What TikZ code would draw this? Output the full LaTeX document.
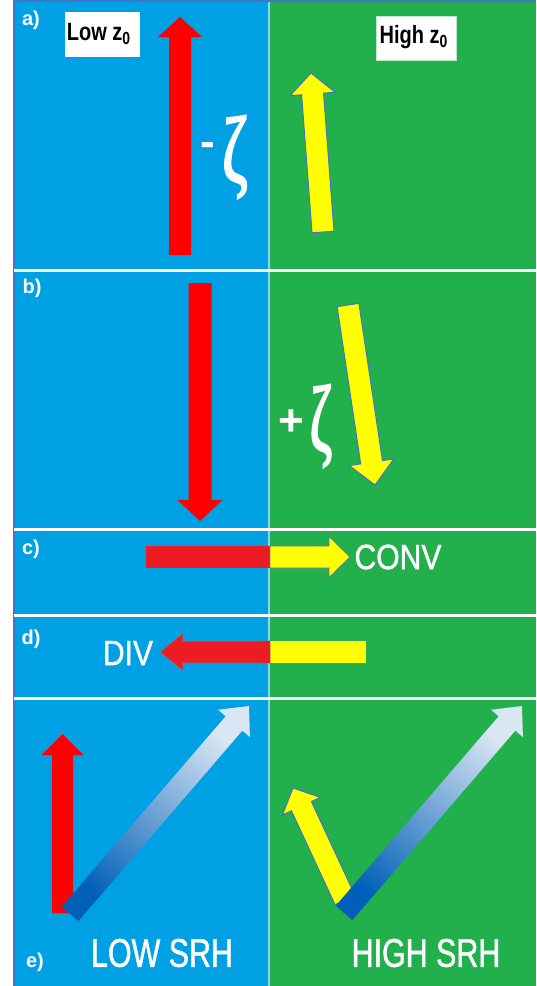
\documentclass[tikz,border=0pt]{standalone}
\usepackage{fontspec}
\setmainfont{Liberation Sans}
\newfontfamily\condA[FakeStretch=0.76,FakeBold=1.2]{Liberation Sans}
\newfontfamily\condB[FakeStretch=0.86,FakeBold=1.2]{Liberation Sans}
\newfontfamily\condC[FakeStretch=0.8]{Liberation Sans}
\newfontfamily\zetafont[FakeBold=2.5]{Liberation Serif}
\usetikzlibrary{calc}
\definecolor{pblue}{RGB}{0,160,228}
\definecolor{pgreen}{RGB}{34,176,76}
\definecolor{pred}{RGB}{255,0,0}
\definecolor{pred2}{RGB}{237,28,36}
\definecolor{pyellow}{RGB}{255,255,0}
\definecolor{edgeblue}{RGB}{68,114,196}
\definecolor{gdark}{RGB}{0,96,184}
\definecolor{gmid}{RGB}{120,170,220}
\definecolor{glight}{RGB}{218,230,243}
% #1 style, #2 tail, #3 tip, #4 half shaft width, #5 half head width, #6 head length
\newcommand\fatarrow[6][]{%
  \coordinate (faH) at ($(#3)!#6!(#2)$);
  \path[#1] ($(#2)!#4!90:(#3)$) -- ($(faH)!#4!90:(#3)$) -- ($(faH)!#5!90:(#3)$)
    -- (#3) -- ($(faH)!#5!-90:(#3)$) -- ($(faH)!#4!-90:(#3)$) -- ($(#2)!#4!-90:(#3)$) -- cycle;}
\begin{document}
\begin{tikzpicture}[x=0.5pt,y=-0.5pt,
  lbl/.style={text=white,font=\bfseries\fontsize{10}{10}\selectfont,inner sep=0pt},
  zbox/.style={fill=white},
  ztext/.style={text=black,font=\condC\bfseries\fontsize{12.5}{12.5}\selectfont,inner sep=0pt},
  bigword/.style={text=white,font=\condB\fontsize{17.5}{17.5}\selectfont,inner sep=0pt},
  srh/.style={text=white,font=\condA\fontsize{20}{20}\selectfont,inner sep=0pt},
  redarrow/.style={fill=pred},
  redarrowB/.style={fill=pred2,draw=gray!80!edgeblue,line width=0.4pt},
  yelarrow/.style={fill=pyellow,draw=edgeblue,line width=0.5pt},
  gradarrow/.style={shade,bottom color=gdark,middle color=gmid,top color=glight,shading angle=-41},
  sepline/.style={white,line width=1.5pt},
  zetatext/.style={text=white,inner sep=0pt}]
\useasboundingbox (0,0) rectangle (536,986);
\fill[white] (0,0) rectangle (536,986);
\fill[pblue] (14,2) rectangle (269,986);
\fill[pgreen] (269,2) rectangle (536,986);
\draw[white!55!pblue,line width=0.6pt] (269,2) -- (269,986);
\draw[edgeblue,line width=1pt] (13.5,986) -- (13.5,1) -- (536,1);
% separators
\draw[sepline] (14,270) -- (536,270);
\draw[sepline] (14,529) -- (536,529);
\draw[sepline] (14,615) -- (536,615);
\draw[sepline] (14,698) -- (536,698);
% panel labels
\node[lbl] (la) at (31,20) {a)};
\node[lbl] (lb) at (32,288) {b)};
\node[lbl] (lc) at (31,549) {c)};
\node[lbl] (ld) at (31,639) {d)};
\node[lbl] (le) at (35,962) {e)};
% z0 boxes
\fill[zbox] (65,12) rectangle (140,57);
\node[ztext] (lowz) at (99,34) {Low z\textsubscript{0}};
\draw[zbox,draw=white!70!pgreen,line width=0.5pt] (376,16) rectangle (456,60);
\node[ztext] (highz) at (414,37) {High z\textsubscript{0}};
% panel a
\coordinate (aRt) at (180,255); \coordinate (aRh) at (180,17);
\fatarrow[redarrow]{aRt}{aRh}{5.5pt}{11pt}{10pt}
\coordinate (aYt) at (323,232); \coordinate (aYh) at (311,73);
\fatarrow[yelarrow]{aYt}{aYh}{5.5pt}{11.25pt}{10.5pt}
\node[zetatext,font=\bfseries\fontsize{22}{22}\selectfont] (aminus) at (208,149) {-};
\node[zetatext] (azeta) at (235,157) {\scalebox{0.66}[1]{\zetafont\fontsize{47}{47}\selectfont ζ}};
% panel b
\coordinate (bRt) at (200,283); \coordinate (bRh) at (200,521);
\fatarrow[redarrow]{bRt}{bRh}{5.75pt}{11.25pt}{10.5pt}
\coordinate (bYt) at (348,305); \coordinate (bYh) at (375,485);
\fatarrow[yelarrow]{bYt}{bYh}{5.5pt}{11.25pt}{11.5pt}
\node[zetatext,font=\bfseries\fontsize{22}{22}\selectfont] (bplus) at (291,423) {+};
\node[zetatext] (bzeta) at (321,426) {\scalebox{0.58}[1]{\zetafont\fontsize{47}{47}\selectfont ζ}};
% panel c
\fill[pred2] (146,546) rectangle (270,568);
\coordinate (cYt) at (270,557); \coordinate (cYh) at (350,557);
\fatarrow[yelarrow,draw=edgeblue!60!gray,line width=0.4pt]{cYt}{cYh}{5.5pt}{10.25pt}{10.5pt}
\node[bigword] (conv) at (398,557) {CONV};
% panel d
\fill[pyellow] (270,641) rectangle (366,663);
\coordinate (dRt) at (270,652); \coordinate (dRh) at (160,652);
\fatarrow[redarrowB]{dRt}{dRh}{5.5pt}{9.5pt}{11.5pt}
\fill[pred2] (262,641.4) rectangle (270,662.6);
\node[bigword] (div) at (128,653) {DIV};
% panel e left
\coordinate (eRt) at (62.5,913); \coordinate (eRh) at (62.5,734);
\fatarrow[redarrow]{eRt}{eRh}{5.25pt}{10.5pt}{10.5pt}
\coordinate (eGt) at (70,914); \coordinate (eGh) at (249,706);
\fatarrow[gradarrow]{eGt}{eGh}{5.5pt}{10.5pt}{11.5pt}
\node[srh] (lowsrh) at (162,953) {LOW SRH};
% panel e right
\coordinate (fYt) at (345,900); \coordinate (fYh) at (293,788);
\fatarrow[yelarrow]{fYt}{fYh}{5.5pt}{10.4pt}{10pt}
\coordinate (fGt) at (344,913); \coordinate (fGh) at (522,706);
\fatarrow[gradarrow]{fGt}{fGh}{5.5pt}{10.5pt}{11.5pt}
\node[srh] (highsrh) at (426,953) {HIGH SRH};
\end{tikzpicture}
\end{document}
